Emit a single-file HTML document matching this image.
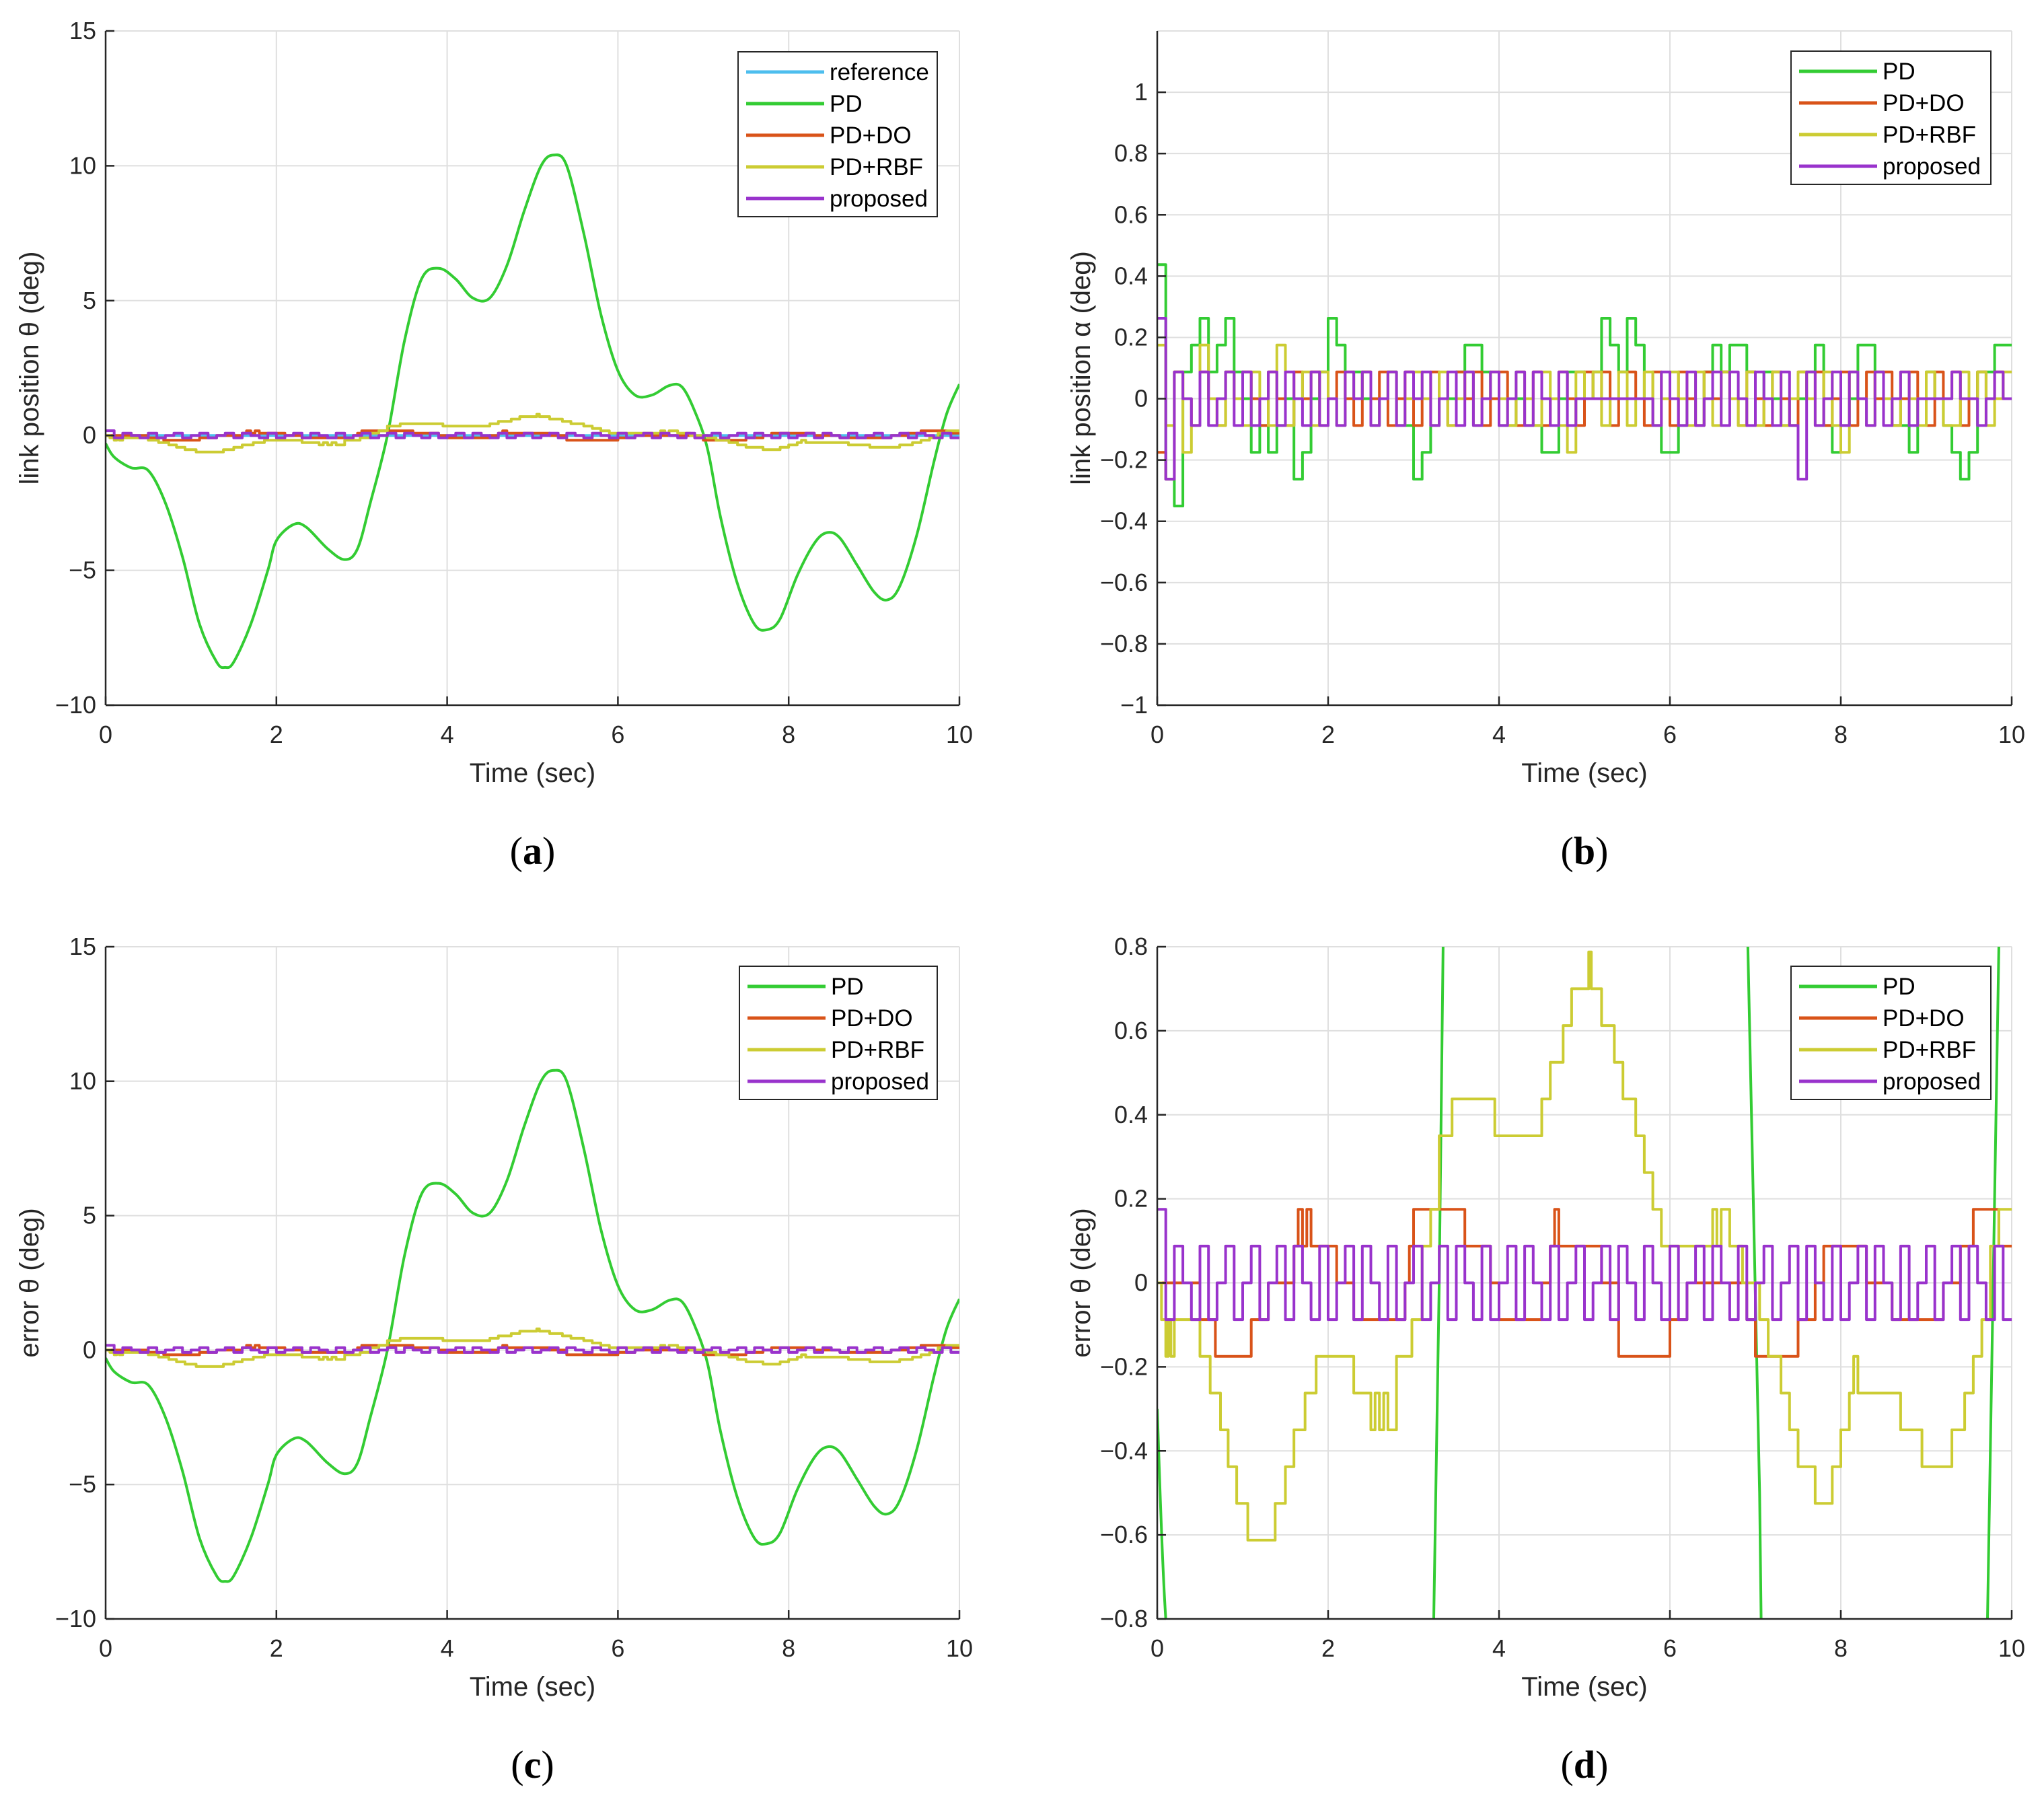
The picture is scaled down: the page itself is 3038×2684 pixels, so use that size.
<!DOCTYPE html>
<html><head><meta charset="utf-8"><style>
html,body{margin:0;padding:0;background:#fff;overflow:hidden;width:3038px;height:2684px;}
svg{display:block;font-family:"Liberation Sans",sans-serif;}
#wrap{display:inline-block;}
</style></head><body>
<svg id="fig" width="3038" height="2684" viewBox="0 0 3038 2684" xmlns="http://www.w3.org/2000/svg"></svg>
<script>
// ---------- data ----------
const pdT = [0,0.1,0.3,0.5,0.7,0.9,1.1,1.3,1.4,1.5,1.7,1.9,2.0,2.2,2.35,2.6,2.8,2.95,3.1,3.3,3.5,3.7,3.9,4.1,4.3,4.5,4.7,4.9,5.1,5.25,5.4,5.6,5.8,6.0,6.2,6.4,6.6,6.75,6.9,7.05,7.2,7.4,7.6,7.75,7.9,8.1,8.3,8.45,8.6,8.8,9.0,9.15,9.3,9.5,9.7,9.85,10];
const pdV = [-0.3,-0.8,-1.2,-1.3,-2.5,-4.5,-7,-8.4,-8.6,-8.4,-7,-5,-3.9,-3.3,-3.4,-4.2,-4.6,-4.2,-2.5,0,3.5,5.8,6.2,5.8,5.1,5.1,6.3,8.3,10,10.4,10,7.5,4.5,2.4,1.5,1.5,1.85,1.8,0.9,-0.5,-3,-5.5,-7,-7.2,-6.8,-5.2,-4,-3.6,-3.8,-4.8,-5.8,-6.1,-5.6,-3.7,-1,0.8,1.9];
const Q = 0.0875;
const rbfT = [0,0.05,0.1,0.13,0.16,0.2,0.5,0.62,0.74,0.83,0.93,1.06,1.38,1.5,1.6,1.73,1.86,2.3,2.5,2.55,2.6,2.65,2.7,2.8,2.98,3.1,3.2,3.3,3.45,3.95,4.5,4.6,4.75,4.85,5.05,5.08,5.2,5.35,5.45,5.6,5.7,5.8,5.9,6.5,6.55,6.6,6.7,6.85,7.05,7.15,7.3,7.4,7.5,7.7,7.9,8.0,8.1,8.15,8.2,8.6,8.7,8.95,9.3,9.45,9.55,9.65,9.75,9.85];
const rbfU = [0,-1,-2,-1,-2,-1,-2,-3,-4,-5,-6,-7,-6,-5,-4,-3,-2,-3,-4,-3,-4,-3,-4,-2,-1,1,2,4,5,4,5,6,7,8,9,8,7,6,5,4,3,2,1,2,1,2,1,0,-1,-2,-3,-4,-5,-6,-5,-4,-3,-2,-3,-3,-4,-5,-4,-3,-2,-1,1,2];
const doT = [0,0.5,0.68,1.1,1.3,1.6,1.65,1.7,1.75,1.8,1.9,2.1,2.3,2.9,2.95,3.0,3.2,3.6,3.9,4.0,4.5,4.6,4.65,4.7,5.0,5.2,5.4,6.0,6.2,6.9,7.0,7.5,7.7,7.8,8.3,8.6,9.2,9.4,9.55,9.85];
const doU = [0,-1,-2,-1,0,1,2,1,2,1,1,0,-1,0,1,2,2,1,0,-1,0,1,2,1,1,0,-2,-1,0,-1,-2,-1,0,1,0,-1,0,1,2,1];
const propD = [2,-1,1,0,-1,1,-1,0,1,-1,0,1,-1,0,1,-1,1,0,-1,1,-1,0,1,-1,1,0,-1,1,-1,0,1,-1,0,1,-1,1,0,-1,1,-1,0,1,-1,1,0,-1,1,-1,0,1,-1,0,1,-1,1,0,-1,1,0,-1,1,-1,0,1,-1,1,0,-1,1,-1,0,1,-1,0,1,-1,1,0,-1,1,-1,0,1,-1,1,0,-1,1,-1,0,1,-1,0,1,-1,1,0,-1,1,-1];
const pdB = [5,-3,-4,1,2,3,1,2,3,1,0,-2,-1,-2,-1,0,-3,-2,0,1,3,2,0,1,0,-1,0,1,-1,-1,-3,-2,-1,0,0,1,2,2,1,0,-1,-1,0,-1,-1,-2,-2,0,1,1,0,1,3,2,1,3,2,0,-1,-2,-2,-1,0,-1,1,2,1,2,2,1,0,1,0,-1,-1,0,1,2,-1,-2,-1,0,2,2,1,0,-1,-1,-2,0,1,0,-1,-2,-3,-2,1,1,2,2];
const doB = [-2,-3,1,0,-1,1,0,-1,1,0,1,0,-1,1,0,-1,1,0,1,-1,0,1,0,-1,1,0,1,-1,0,1,-1,0,1,0,-1,1,0,1,-1,0,1,0,-1,0,1,-1,0,1,0,-1,1,0,1,-1,0,1,0,-1,1,0,-1,1,0,-1,1,0,1,0,-1,1,0,-1,1,0,-1,1,0,1,-1,0,1,-1,0,1,0,1,-1,0,1,0,-1,1,0,1,-1,0,1,0,1,0];
const rbfB = [2,-1,1,-2,-1,2,0,-1,1,0,-1,1,0,-1,2,-1,0,1,-1,1,0,-1,1,0,1,-1,0,1,-1,0,1,0,-1,1,-1,0,1,-1,0,1,0,-1,1,0,-1,1,0,-1,-2,1,0,1,-1,0,1,-1,0,1,-1,0,1,0,-1,1,0,-1,1,0,-1,1,-1,0,1,-1,0,1,0,-1,1,-1,-2,1,0,-1,1,0,-1,1,0,-1,1,0,-1,-1,1,0,1,-1,0,1];
const propB = [3,-3,1,0,-1,1,-1,0,1,-1,1,-1,0,1,-1,1,0,-1,1,-1,0,-1,1,0,1,-1,0,1,-1,1,0,1,-1,0,1,-1,1,-1,0,1,-1,0,1,-1,1,0,-1,1,-1,0,0,0,0,0,0,0,0,0,-1,1,0,-1,1,-1,0,1,-1,1,0,-1,1,0,-1,1,-1,-3,1,-1,0,1,-1,1,0,-1,1,-1,0,1,-1,0,0,0,0,1,0,0,-1,0,1,0];
const xTicks = [0,2,4,6,8,10];
const yTicksA = [-10,-5,0,5,10,15];
const yTicksB = [-1,-0.8,-0.6,-0.4,-0.2,0,0.2,0.4,0.6,0.8,1];
const yTicksD = [-0.8,-0.6,-0.4,-0.2,0,0.2,0.4,0.6,0.8];

const C = {ref:'#4DBEEE',pd:'#33cc33',do:'#d95319',rbf:'#cccc33',prop:'#9933cc'};
const NS='http://www.w3.org/2000/svg';
const fig=document.getElementById('fig');
function el(tag,attrs,parent){const e=document.createElementNS(NS,tag);for(const k in attrs)e.setAttribute(k,attrs[k]);(parent||fig).appendChild(e);return e;}
function fmt(v){let s=(Math.round(v*10)/10).toString();return s.replace('-','\u2212');}

function panel(id,box,ymin,ymax,yticks,ylabel,letter,series,legend){
  const g=el('g',{});
  
  
  const X=t=>box.x0+(t/10)*(box.x1-box.x0);
  const Y=v=>box.y1-(v-ymin)/(ymax-ymin)*(box.y1-box.y0);
  const cp=el('clipPath',{id:'cp'+id},g);
  el('rect',{x:box.x0,y:box.y0,width:box.x1-box.x0,height:box.y1-box.y0},cp);
  const grid=el('g',{stroke:'#dfdfdf','stroke-width':2},g);
  
  
  xTicks.forEach(t=>el('line',{x1:X(t),x2:X(t),y1:box.y0,y2:box.y1},grid));
  yticks.forEach(v=>el('line',{x1:box.x0,x2:box.x1,y1:Y(v),y2:Y(v)},grid));
  el('line',{x1:box.x0,x2:box.x1,y1:box.y0,y2:box.y0},grid);
  const sg=el('g',{'clip-path':'url(#cp'+id+')',fill:'none','stroke-width':4,'stroke-linejoin':'round'},g);
  series.forEach(s=>{
    const p=el('path',{d:s.d(X,Y),stroke:s.c},sg);
    
    
  });
  const ax=el('g',{stroke:'#262626','stroke-width':2.5},g);
  
  
  el('line',{x1:box.x0,x2:box.x1,y1:box.y1,y2:box.y1},ax);
  el('line',{x1:box.x0,x2:box.x0,y1:box.y0,y2:box.y1},ax);
  xTicks.forEach(t=>el('line',{x1:X(t),x2:X(t),y1:box.y1,y2:box.y1-13},ax));
  yticks.forEach(v=>el('line',{x1:box.x0,x2:box.x0+13,y1:Y(v),y2:Y(v)},ax));
  xTicks.forEach(t=>{const tx=el('text',{x:X(t),y:box.y1+56,'font-size':36,'text-anchor':'middle',fill:'#262626'},g);tx.textContent=fmt(t);
    });
  yticks.forEach(v=>{const tx=el('text',{x:box.x0-14,y:Y(v)+12,'font-size':36,'text-anchor':'end',fill:'#262626'},g);tx.textContent=fmt(v);
    });
  const xl=el('text',{x:(box.x0+box.x1)/2,y:box.y1+114,'font-size':40,'text-anchor':'middle',fill:'#262626'},g);xl.textContent='Time (sec)';
  
  const cy=(box.y0+box.y1)/2, cx=box.x0-100;
  const yl=el('text',{x:cx,y:cy,'font-size':40,'text-anchor':'middle',fill:'#262626',transform:`rotate(-90 ${cx} ${cy})`},g);yl.textContent=ylabel;
  
  const lt=el('text',{x:(box.x0+box.x1)/2,y:box.y1+236,'font-size':58,'text-anchor':'middle','font-family':'Liberation Serif, serif',fill:'#000'},g);
  lt.innerHTML='(<tspan font-weight="bold">'+letter+'</tspan>)';
  
  const lg=el('g',{},g);
  
  const lx=legend.x, ly=legend.y, h=47;
  el('rect',{x:lx,y:ly,width:legend.w,height:legend.items.length*h+10,fill:'#fff',stroke:'#262626','stroke-width':2},lg);
  legend.items.forEach((it,i)=>{
    const yy=ly+30+i*h;
    const e=el('g',{},lg);
    
    el('line',{x1:lx+12,x2:lx+128,y1:yy,y2:yy,stroke:it[1],'stroke-width':5},e);
    const t=el('text',{x:lx+136,y:yy+12,'font-size':35,fill:'#000'},e);t.textContent=it[0];
  });
}
function smoothPath(T,V,scale){return (X,Y)=>{
  const P=T.map((t,i)=>[X(t),Y(V[i]*scale)]);
  let d='M'+P[0][0].toFixed(1)+','+P[0][1].toFixed(1);
  for(let i=0;i<P.length-1;i++){
    const p0=P[Math.max(i-1,0)],p1=P[i],p2=P[i+1],p3=P[Math.min(i+2,P.length-1)];
    const c1=[p1[0]+(p2[0]-p0[0])/6,p1[1]+(p2[1]-p0[1])/6];
    const c2=[p2[0]-(p3[0]-p1[0])/6,p2[1]-(p3[1]-p1[1])/6];
    d+='C'+c1[0].toFixed(1)+','+c1[1].toFixed(1)+' '+c2[0].toFixed(1)+','+c2[1].toFixed(1)+' '+p2[0].toFixed(1)+','+p2[1].toFixed(1);
  }
  return d;};}
function stepPath(T,U){return (X,Y)=>{let d='M'+X(T[0])+','+Y(U[0]*Q);for(let i=1;i<T.length;i++){d+='H'+X(T[i]).toFixed(1)+'V'+Y(U[i]*Q).toFixed(1);}return d+'H'+X(10);};}
function regStep(U){return (X,Y)=>{let d='M'+X(0)+','+Y(U[0]*Q);for(let i=1;i<U.length;i++){d+='H'+X(i*0.1).toFixed(1)+'V'+Y(U[i]*Q).toFixed(1);}return d+'H'+X(10);};}
function flat(v){return (X,Y)=>'M'+X(0)+','+Y(v)+'H'+X(10);}

const thetaSeries=[
 {n:'reference',c:C.ref,d:flat(0)},
 {n:'pd',c:C.pd,d:smoothPath(pdT,pdV,1)},
 {n:'pd-do',c:C.do,d:stepPath(doT,doU)},
 {n:'pd-rbf',c:C.rbf,d:stepPath(rbfT,rbfU)},
 {n:'proposed',c:C.prop,d:regStep(propD)}];
const items4=[['PD',C.pd],['PD+DO',C.do],['PD+RBF',C.rbf],['proposed',C.prop]];
panel('a',{x0:157,x1:1426,y0:46,y1:1048},-10,15,yTicksA,'link position \u03b8 (deg)','a',thetaSeries,
 {x:1097,y:77,w:296,items:[['reference',C.ref]].concat(items4)});
panel('b',{x0:1720,x1:2990,y0:46,y1:1048},-1,1.2,yTicksB,'link position \u03b1 (deg)','b',
 [{n:'pd',c:C.pd,d:regStep(pdB)},{n:'pd-do',c:C.do,d:regStep(doB)},{n:'pd-rbf',c:C.rbf,d:regStep(rbfB)},{n:'proposed',c:C.prop,d:regStep(propB)}],
 {x:2662,y:76,w:297,items:items4});
panel('c',{x0:157,x1:1426,y0:1407,y1:2406},-10,15,yTicksA,'error \u03b8 (deg)','c',thetaSeries.slice(1),
 {x:1099,y:1436,w:294,items:items4});
panel('d',{x0:1720,x1:2990,y0:1407,y1:2406},-0.8,0.8,yTicksD,'error \u03b8 (deg)','d',thetaSeries.slice(1),
 {x:2662,y:1436,w:297,items:items4});
</script>
</body></html>
